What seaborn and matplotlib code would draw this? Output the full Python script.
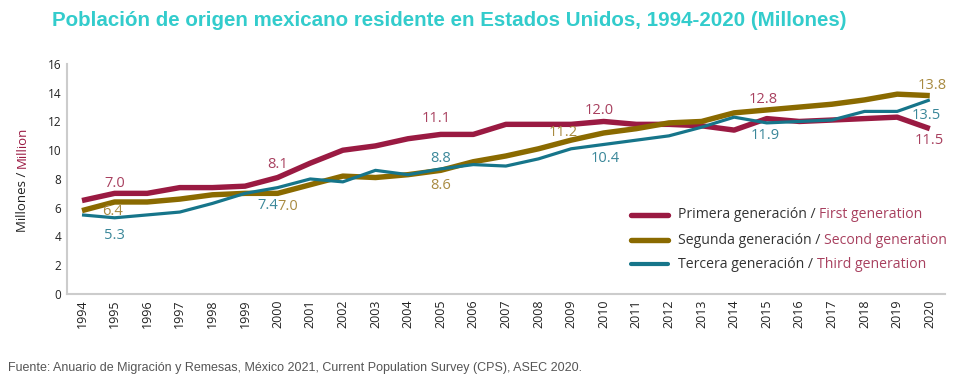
import matplotlib
matplotlib.use("Agg")
import matplotlib.pyplot as plt
import seaborn as sns
import pandas as pd
from matplotlib.lines import Line2D

years = list(range(1994, 2021))
first_gen = [6.5, 7.0, 7.0, 7.4, 7.4, 7.5, 8.1, 9.1, 10.0, 10.3, 10.8, 11.1, 11.1, 11.8, 11.8,
             11.8, 12.0, 11.8, 11.8, 11.7, 11.4, 12.2, 12.0, 12.1, 12.2, 12.3, 11.5]
second_gen = [5.8, 6.4, 6.4, 6.6, 6.9, 7.0, 7.0, 7.6, 8.2, 8.1, 8.3, 8.6, 9.2, 9.6, 10.1,
              10.7, 11.2, 11.5, 11.9, 12.0, 12.6, 12.8, 13.0, 13.2, 13.5, 13.9, 13.8]
third_gen = [5.5, 5.3, 5.5, 5.7, 6.3, 7.0, 7.4, 8.0, 7.8, 8.6, 8.3, 8.7, 9.0, 8.9, 9.4,
             10.1, 10.4, 10.7, 11.0, 11.6, 12.3, 11.9, 12.0, 12.1, 12.7, 12.7, 13.5]

series_es = ["Primera generación", "Segunda generación", "Tercera generación"]
series_en = ["First generation", "Second generation", "Third generation"]
title = "Población de origen mexicano residente en Estados Unidos, 1994-2020 (Millones)"
source = "Fuente: Anuario de Migración y Remesas, México 2021, Current Population Survey (CPS), ASEC 2020."
yticks = [0, 2, 4, 6, 8, 10, 12, 14, 16]

# data labels: (series index, year, text)
point_labels = [
    (0, 1995, "7.0"), (1, 1995, "6.4"), (2, 1995, "5.3"),
    (0, 2000, "8.1"), (2, 2000, "7.4"), (1, 2000, "7.0"),
    (0, 2005, "11.1"), (2, 2005, "8.8"), (1, 2005, "8.6"),
    (1, 2009, "11.2"), (0, 2010, "12.0"), (2, 2010, "10.4"),
    (0, 2015, "12.8"), (2, 2015, "11.9"),
    (1, 2020, "13.8"), (2, 2020, "13.5"), (0, 2020, "11.5"),
]
# pixel offsets (dx, dy) for each label above
label_offsets = [
    (0, 10), (-2, -10), (0, -18),
    (0, 13), (-10, -18), (10, -13),
    (-4, 16), (0, 10), (0, -15),
    (-8, 8), (-4, 11), (2, -14),
    (-4, 19), (-2, -13),
    (2, 10), (-3, -16), (0, -12),
]

line_colors = ["#9A1A42", "#8A6A00", "#16758A"]
text_colors = ["#A8405F", "#A88A40", "#3A8799"]
widths = [3.9, 3.9, 2.3]

df = pd.DataFrame({
    "year": years * 3,
    "value": first_gen + second_gen + third_gen,
    "series": sum([[s] * len(years) for s in series_es], []),
})

sns.set_style("white")
plt.rcParams["font.family"] = ["Open Sans", "DejaVu Sans"]

fig = plt.figure(figsize=(9.71, 3.83), dpi=100)
ax = fig.add_axes([0.069, 0.2324, 0.904, 0.6006])

for i, s in enumerate(series_es):
    sub = df[df["series"] == s]
    sns.lineplot(data=sub, x="year", y="value", ax=ax, color=line_colors[i],
                 linewidth=widths[i], legend=False, zorder=3 + i,
                 solid_capstyle="butt", solid_joinstyle="round")

vals = [first_gen, second_gen, third_gen]
for (si, yr, txt), (dx, dy) in zip(point_labels, label_offsets):
    v = vals[si][years.index(yr)]
    ax.annotate(txt, (yr, v), xytext=(dx * 0.72, dy * 0.72), textcoords="offset points",
                ha="center", va="center", fontsize=10.5, color=text_colors[si], zorder=10)

ax.set_xlim(1993.54, 2020.46)
ax.set_ylim(0, 16)
ax.set_xticks(years)
ax.set_xticklabels([str(y) for y in years], rotation=90, fontsize=9, color="#222222")
ax.set_yticks(yticks)
ax.set_yticklabels([str(t) for t in yticks], fontsize=8.5, color="#222222")
ax.tick_params(axis="both", length=0, pad=4)
ax.set_xlabel("")
ax.set_ylabel("")
for side in ["top", "right"]:
    ax.spines[side].set_visible(False)
for side in ["left", "bottom"]:
    ax.spines[side].set_color("#cccccc")
    ax.spines[side].set_linewidth(1.5)
ax.grid(False)

# title & source
fig.text(52 / 971, 1 - 20 / 383, title, fontsize=14.8, fontweight="bold", color="#33CCCC",
         ha="left", va="center", family=["Liberation Sans", "DejaVu Sans"])
fig.text(8 / 971, 1 - 368 / 383, source, fontsize=9, color="#555555",
         ha="left", va="center", family=["Liberation Sans Narrow", "Liberation Sans", "DejaVu Sans"])

fig.canvas.draw()
renderer = fig.canvas.get_renderer()

# y label in two colours
yl1 = fig.text(22 / 971, 1 - 232 / 383, "Millones / ", rotation=90, fontsize=9.5,
               color="#222222", ha="center", va="bottom")
ext = yl1.get_window_extent(renderer)
fig.text(22 / 971, (ext.y1) / fig.bbox.height, "Million", rotation=90, fontsize=9.5,
         color="#9A1A42", ha="center", va="bottom")

# legend drawn manually with two-colour labels
rows_y = [215, 240, 264]
for i in range(3):
    yf = 1 - rows_y[i] / 383
    fig.add_artist(Line2D([631 / 971, 668 / 971], [yf, yf], color=line_colors[i],
                          linewidth=widths[i] if i < 2 else 3.0, solid_capstyle="round",
                          transform=fig.transFigure))
    t1 = fig.text(678 / 971, yf, series_es[i] + " / ", fontsize=10.1, color="#333333",
                  ha="left", va="center")
    e = t1.get_window_extent(renderer)
    fig.text(e.x1 / fig.bbox.width, yf, series_en[i], fontsize=10.1, color="#A8405F",
             ha="left", va="center")

fig.savefig("out.png", dpi=100)
